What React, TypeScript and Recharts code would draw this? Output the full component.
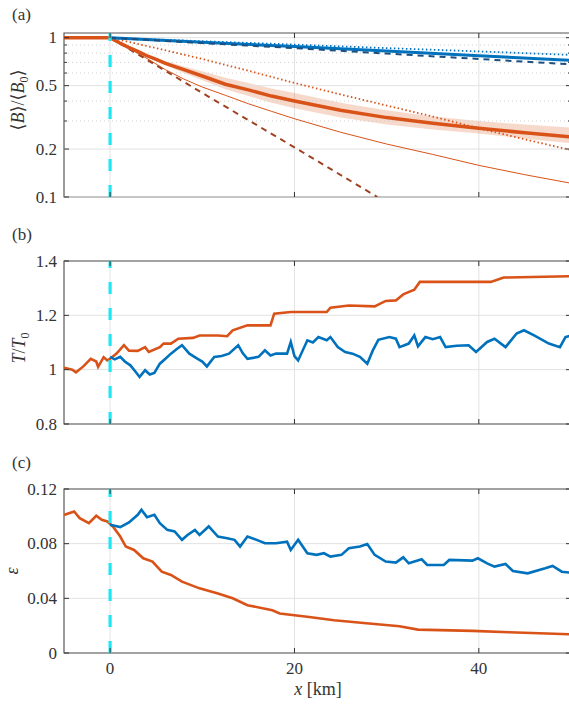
import React from "react";
import {
  ComposedChart,
  Line,
  Area,
  XAxis,
  YAxis,
  CartesianGrid,
  ReferenceLine,
  ReferenceArea,
} from "recharts";

const FONT = "'Liberation Serif', 'Times New Roman', 'DejaVu Serif', serif";
const INK = "#333333";
const GRID = "#e2e2e2";
const ORANGE = "#D95319";
const BROWN = "#9E4322";
const BLUE = "#0072BD";
const NAVY = "#1B4F80";
const CYAN = "#1EE6F2";

const PLOT_LEFT = 64;
const PLOT_RIGHT = 571;

const X_DOMAIN = [-5, 50];
const X_TICKS = [0, 20, 40];
const X_LABELS = ["0", "20", "40"];

// (a) <B>/<B0>, log axis
const A_TICKS = [0.1, 0.2, 0.3, 0.4, 0.5, 0.6, 0.7, 0.8, 0.9, 1];
const A_MAJOR = [0.1, 0.2, 0.5, 1];
const A_LABELS = ["0.1", "0.2", "0.5", "1"];
const A_MINOR = [0.3, 0.4, 0.6, 0.7, 0.8, 0.9];

const meanX = [-5, 0, 1, 2, 3, 4, 5, 6, 8, 10, 12.5, 15, 17.5, 20, 25, 30, 35, 40, 45, 50];
const meanY = [1, 1, 0.93, 0.87, 0.82, 0.77, 0.73, 0.69, 0.63, 0.575, 0.51, 0.47, 0.43, 0.4, 0.35, 0.315, 0.29, 0.27, 0.253, 0.238];

const bandX = [3, 5, 8, 10, 12.5, 15, 17.5, 20, 25, 30, 35, 40, 45, 50];
const bandHi = [0.82, 0.745, 0.66, 0.615, 0.56, 0.52, 0.48, 0.45, 0.39, 0.35, 0.32, 0.3, 0.285, 0.272];
const bandLo = [0.82, 0.715, 0.6, 0.54, 0.475, 0.43, 0.39, 0.36, 0.315, 0.285, 0.265, 0.25, 0.232, 0.218];

const dotOrX = [0, 5, 10, 15, 20, 25, 30, 35, 40, 45, 50];
const dotOrY = [1, 0.86, 0.735, 0.62, 0.52, 0.44, 0.375, 0.32, 0.27, 0.23, 0.197];

const thinOrX = [0, 2, 4, 6, 8, 10, 12.5, 15, 17.5, 20, 25, 30, 35, 40, 45, 50];
const thinOrY = [1, 0.86, 0.74, 0.63, 0.55, 0.49, 0.435, 0.385, 0.345, 0.31, 0.255, 0.215, 0.185, 0.158, 0.138, 0.122];

const dashOrX = [0, 10, 20, 29];
const dashOrY = [1, 0.45, 0.205, 0.1];

const blueX = [0, 10, 20, 30, 40, 50];
const blueSolid = [1, 0.935, 0.88, 0.825, 0.77, 0.72];
const blueDotted = [1, 0.95, 0.905, 0.86, 0.82, 0.78];
const blueDashed = [1, 0.925, 0.86, 0.795, 0.735, 0.68];

// (b) T/T0
const B_TICKS = [0.8, 1, 1.2, 1.4];
const B_LABELS = ["0.8", "1", "1.2", "1.4"];

const tOrX = [-5, -4.1, -3.7, -2.9, -2.1, -1.5, -1.3, -0.7, -0.3, 0, 0.7, 1.5, 2.05, 3.0, 3.8, 4.2, 5.4, 5.8, 6.6, 7.4, 9.0, 9.7, 11.7, 12.7, 13.3, 14.9, 17.4, 17.8, 19.6, 23.5, 23.9, 25.9, 28.7, 29.9, 31.0, 31.8, 33.0, 33.6, 41.3, 42.7, 50];
const tOrY = [1.007, 1.0, 0.99, 1.012, 1.04, 1.03, 1.01, 1.046, 1.034, 1.04, 1.059, 1.09, 1.07, 1.069, 1.083, 1.065, 1.083, 1.096, 1.096, 1.114, 1.117, 1.126, 1.126, 1.123, 1.145, 1.163, 1.163, 1.206, 1.212, 1.212, 1.228, 1.236, 1.233, 1.253, 1.255, 1.277, 1.294, 1.323, 1.323, 1.339, 1.344];

const tBlX = [0, 0.5, 1.1, 1.6, 2.2, 2.7, 3.2, 3.8, 4.3, 4.8, 5.4, 6.0, 6.6, 7.2, 7.8, 8.6, 9.5, 10.0, 10.5, 11.3, 12.1, 12.9, 13.9, 14.4, 14.9, 16.1, 16.8, 17.4, 18, 19.2, 19.6, 20.0, 20.4, 21.4, 22.0, 22.6, 23.5, 23.9, 24.7, 25.5, 26.3, 27.1, 27.9, 28.5, 29.1, 30.3, 31, 31.4, 32.4, 33, 33.4, 34.2, 35.0, 35.8, 36.4, 37.6, 38.9, 39.7, 40.9, 41.7, 42.9, 44.1, 44.9, 46, 47.6, 48.8, 49.4, 50];
const tBlY = [1.047, 1.038, 1.047, 1.03, 1.016, 0.995, 0.973, 0.998, 0.982, 0.988, 1.022, 1.04, 1.059, 1.075, 1.09, 1.059, 1.04, 1.03, 1.012, 1.047, 1.05, 1.059, 1.09, 1.06, 1.04, 1.047, 1.071, 1.052, 1.059, 1.059, 1.102, 1.05, 1.034, 1.108, 1.1, 1.12, 1.108, 1.12, 1.083, 1.065, 1.059, 1.047, 1.022, 1.071, 1.11, 1.12, 1.114, 1.083, 1.096, 1.126, 1.086, 1.12, 1.112, 1.12, 1.083, 1.088, 1.09, 1.065, 1.102, 1.114, 1.083, 1.133, 1.145, 1.126, 1.096, 1.083, 1.12, 1.126];

// (c) epsilon
const C_TICKS = [0, 0.04, 0.08, 0.12];
const C_LABELS = ["0", "0.04", "0.08", "0.12"];

const eOrX = [-5, -3.9, -3.3, -2.3, -1.5, -0.9, -0.3, 0.3, 1.1, 1.7, 2.6, 3.6, 4.6, 5.6, 6.6, 7.8, 9.7, 11.7, 13.3, 14.9, 17.6, 18.4, 21.6, 24.3, 27.5, 31.4, 33.4, 39.3, 43.3, 50];
const eOrY = [0.101, 0.1036, 0.0987, 0.095, 0.1004, 0.0975, 0.0962, 0.0926, 0.0852, 0.0779, 0.0754, 0.0693, 0.0669, 0.0595, 0.0571, 0.0522, 0.0473, 0.0436, 0.04, 0.035, 0.0313, 0.0289, 0.0264, 0.024, 0.022, 0.0196, 0.0171, 0.0162, 0.0152, 0.0137];

const eBlX = [0, 1.1, 2.05, 3, 3.4, 4, 4.8, 5.4, 6.2, 7, 7.8, 8.4, 9.2, 9.7, 10.7, 11.7, 12.7, 13.5, 14.1, 14.9, 15.9, 16.8, 18, 19.2, 19.6, 20.4, 21.4, 22.4, 23.2, 23.9, 25.1, 25.9, 27.1, 27.9, 28.7, 29.9, 31, 31.8, 32.4, 33.8, 34.4, 36.2, 36.8, 39.3, 39.9, 40.9, 41.7, 42.9, 43.7, 45.3, 47.2, 48, 49, 50];
const eBlY = [0.0938, 0.0921, 0.0955, 0.1011, 0.1048, 0.0994, 0.1011, 0.095, 0.0901, 0.0889, 0.0828, 0.0864, 0.0901, 0.0864, 0.0926, 0.0852, 0.084, 0.0828, 0.0779, 0.0852, 0.0828, 0.0803, 0.0803, 0.0815, 0.0754, 0.0828, 0.073, 0.0718, 0.073, 0.0705, 0.0718, 0.0767, 0.0779, 0.0798, 0.0718, 0.0669, 0.0661, 0.07, 0.0656, 0.0686, 0.0644, 0.0644, 0.0681, 0.0676, 0.0693, 0.0656, 0.0632, 0.0651, 0.06, 0.0583, 0.062, 0.0637, 0.0595, 0.0588];

const pts = (xs: number[], ys: number[]) => xs.map((x, i) => ({ x, y: ys[i] }));
const range = (xs: number[], lo: number[], hi: number[]) =>
  xs.map((x, i) => ({ x, y: [lo[i], hi[i]] }));

const tickStyle = { fontFamily: FONT, fontSize: 17, fill: INK };

function XTick(props: any) {
  const { x, payload, top, bottom, showLabel } = props;
  return (
    <g>
      <line x1={x} x2={x} y1={bottom} y2={bottom - 5} stroke={INK} />
      <line x1={x} x2={x} y1={top} y2={top + 5} stroke={INK} />
      {showLabel && (
        <text x={x} y={bottom + 15} textAnchor="middle" dominantBaseline="central" style={tickStyle}>
          {X_LABELS[X_TICKS.indexOf(payload.value)]}
        </text>
      )}
    </g>
  );
}

function YTick(props: any) {
  const { y, payload, major, labels } = props;
  const i = major.indexOf(payload.value);
  const len = i >= 0 ? 5 : 3;
  return (
    <g>
      <line x1={PLOT_LEFT} x2={PLOT_LEFT + len} y1={y} y2={y} stroke={INK} />
      <line x1={PLOT_RIGHT - len} x2={PLOT_RIGHT} y1={y} y2={y} stroke={INK} />
      {i >= 0 && (
        <text x={PLOT_LEFT - 7} y={y} textAnchor="end" dominantBaseline="central" style={tickStyle}>
          {labels[i]}
        </text>
      )}
    </g>
  );
}

function Panel({ top, marginTop, height, xAxisHeight, showX, yProps, yDomain, children, grid = true }: any) {
  const plotTop = marginTop;
  const plotBottom = height - xAxisHeight;
  return (
    <div style={{ position: "absolute", left: 0, top }}>
      <ComposedChart
        width={PLOT_RIGHT}
        height={height}
        margin={{ top: marginTop, right: 0, bottom: 0, left: 0 }}
      >
        <CartesianGrid stroke={GRID} horizontal={grid} vertical={true} />
        <XAxis
          dataKey="x"
          type="number"
          domain={X_DOMAIN}
          ticks={X_TICKS}
          interval={0}
          allowDataOverflow
          height={xAxisHeight}
          axisLine={false}
          tickLine={false}
          tick={<XTick top={plotTop} bottom={plotBottom} showLabel={showX} />}
        />
        <YAxis
          type="number"
          width={PLOT_LEFT}
          domain={yDomain}
          interval={0}
          allowDataOverflow
          axisLine={false}
          tickLine={false}
          {...yProps}
        />
        {children}
        <ReferenceLine x={0} stroke={CYAN} strokeWidth={3.2} strokeDasharray="12 14" />
        <ReferenceArea
          x1={X_DOMAIN[0]}
          x2={X_DOMAIN[1]}
          y1={yDomain[0]}
          y2={yDomain[1]}
          fill="none"
          stroke="#555"
          strokeWidth={1.1}
          fillOpacity={0}
        />
      </ComposedChart>
    </div>
  );
}

export default function App() {
  const common = { isAnimationActive: false, dot: false, type: "linear" as const, dataKey: "y" };
  const labelStyle = { fontFamily: FONT, fontSize: 18, fill: INK };
  return (
    <div
      style={{
        position: "fixed",
        left: 0,
        top: 0,
        width: 569,
        height: 705,
        overflow: "hidden",
        background: "#fff",
      }}
    >
      <Panel
        top={0}
        marginTop={33}
        height={207}
        xAxisHeight={10}
        showX={false}
        grid={false}
        yDomain={[0.1, 1.07]}
        yProps={{ scale: "log", ticks: A_TICKS, tick: <YTick major={A_MAJOR} labels={A_LABELS} /> }}
      >
        {A_MAJOR.map((v) => (
          <ReferenceLine key={"M" + v} y={v} stroke={GRID} />
        ))}
        {A_MINOR.map((v) => (
          <ReferenceLine key={"m" + v} y={v} stroke="#d0d0d0" strokeDasharray="1 3" />
        ))}
        <Area
          data={range(bandX, bandLo, bandHi)}
          dataKey="y"
          type="linear"
          stroke="none"
          fill={ORANGE}
          fillOpacity={0.22}
          isAnimationActive={false}
        />
        <Line {...common} data={pts(thinOrX, thinOrY)} stroke={ORANGE} strokeWidth={1} />
        <Line {...common} data={pts(dotOrX, dotOrY)} stroke={ORANGE} strokeWidth={1.8} strokeDasharray="1.5 2.5" />
        <Line {...common} data={pts(dashOrX, dashOrY)} stroke={BROWN} strokeWidth={2} strokeDasharray="6 5" />
        <Line {...common} data={pts(meanX, meanY)} stroke={ORANGE} strokeWidth={3.5} />
        <Line {...common} data={pts(blueX, blueDotted)} stroke={BLUE} strokeWidth={1.8} strokeDasharray="1.5 2.5" />
        <Line {...common} data={pts(blueX, blueSolid)} stroke={BLUE} strokeWidth={3} />
        <Line {...common} data={pts(blueX, blueDashed)} stroke={NAVY} strokeWidth={2} strokeDasharray="6 5" />
      </Panel>

      <Panel
        top={210}
        marginTop={51}
        height={224}
        xAxisHeight={10}
        showX={false}
        yDomain={[0.8, 1.4]}
        yProps={{ ticks: B_TICKS, tick: <YTick major={B_TICKS} labels={B_LABELS} /> }}
      >
        <Line {...common} data={pts(tOrX, tOrY)} stroke={ORANGE} strokeWidth={2.6} />
        <Line {...common} data={pts(tBlX, tBlY)} stroke={BLUE} strokeWidth={2.6} />
      </Panel>

      <Panel
        top={440}
        marginTop={49}
        height={265}
        xAxisHeight={52}
        showX={true}
        yDomain={[0, 0.12]}
        yProps={{ ticks: C_TICKS, tick: <YTick major={C_TICKS} labels={C_LABELS} /> }}
      >
        <Line {...common} data={pts(eOrX, eOrY)} stroke={ORANGE} strokeWidth={2.6} />
        <Line {...common} data={pts(eBlX, eBlY)} stroke={BLUE} strokeWidth={2.6} />
      </Panel>

      <svg
        width={569}
        height={705}
        style={{ position: "absolute", left: 0, top: 0, pointerEvents: "none" }}
      >
        <text x={12} y={20} style={{ ...labelStyle, fontSize: 17 }}>(a)</text>
        <text x={12} y={240} style={{ ...labelStyle, fontSize: 17 }}>(b)</text>
        <text x={12} y={468} style={{ ...labelStyle, fontSize: 17 }}>(c)</text>

        <text transform="translate(24,100) rotate(-90)" textAnchor="middle" style={labelStyle}>
          <tspan>⟨</tspan>
          <tspan fontStyle="italic">B</tspan>
          <tspan>⟩/⟨</tspan>
          <tspan fontStyle="italic">B</tspan>
          <tspan fontSize={12} dy={4}>0</tspan>
          <tspan dy={-4}>⟩</tspan>
        </text>
        <text transform="translate(25,348) rotate(-90)" textAnchor="middle" style={labelStyle}>
          <tspan fontStyle="italic">T</tspan>
          <tspan>/</tspan>
          <tspan fontStyle="italic">T</tspan>
          <tspan fontSize={12} dy={4}>0</tspan>
        </text>
        <text
          transform="translate(12,571) rotate(-90)"
          textAnchor="middle"
          dominantBaseline="central"
          style={{ ...labelStyle, fontStyle: "italic" }}
        >
          ε
        </text>
        <text x={318} y={695} textAnchor="middle" style={labelStyle}>
          <tspan fontStyle="italic">x</tspan>
          <tspan> [km]</tspan>
        </text>
      </svg>
    </div>
  );
}
